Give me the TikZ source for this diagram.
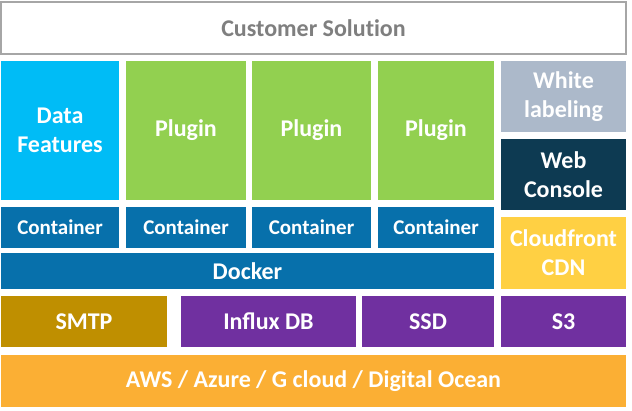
\documentclass[tikz,border=0pt]{standalone}
\usepackage{fontspec}
\setmainfont{Carlito}
\definecolor{cCyan}{HTML}{00BCF6}
\definecolor{cGreen}{HTML}{92D050}
\definecolor{cBlue}{HTML}{0770AB}
\definecolor{cGrayBlue}{HTML}{ACB9CA}
\definecolor{cNavy}{HTML}{0D3A52}
\definecolor{cYellow}{HTML}{FFD043}
\definecolor{cOlive}{HTML}{BF8F00}
\definecolor{cPurple}{HTML}{7030A0}
\definecolor{cOrange}{HTML}{FBAF34}
\definecolor{cText}{HTML}{7F7F7F}
\definecolor{cBorder}{HTML}{A6A6A6}
\begin{document}
\begin{tikzpicture}[x=1pt,y=-1pt,
  blk/.style={rectangle, inner sep=0pt, outer sep=0pt, text=white, align=center,
    font=\fontsize{24}{29}\selectfont\bfseries},
  small/.style={font=\fontsize{21}{26}\selectfont\bfseries},
  ]
\useasboundingbox (0,0) rectangle (632,411);
\node[blk, fill=white, draw=cBorder, line width=1.5pt, text=cText, minimum width=625pt, minimum height=52pt] (cs) at (313.5,28) {Customer Solut\kern0pt ion};
% top row
\node[blk, fill=cCyan, minimum width=118pt, minimum height=139pt] (df) at (60,130.5) {Data\\Features};
\node[blk, fill=cGreen, minimum width=120pt, minimum height=139pt] (p1) at (186,130.5) {Plugin};
\node[blk, fill=cGreen, minimum width=119pt, minimum height=139pt] (p2) at (311.5,130.5) {Plugin};
\node[blk, fill=cGreen, minimum width=116pt, minimum height=139pt] (p3) at (436,130.5) {Plugin};
\node[blk, fill=cGrayBlue, minimum width=125pt, minimum height=71pt] (wl) at (563.5,96.5) {White\\labeling};
\node[blk, fill=cNavy, minimum width=125pt, minimum height=71pt] (wc) at (563.5,174.5) {Web\\Console};
% containers
\node[blk, small, fill=cBlue, minimum width=118pt, minimum height=41pt] (c1) at (60,227.5) {Container};
\node[blk, small, fill=cBlue, minimum width=120pt, minimum height=41pt] (c2) at (186,227.5) {Container};
\node[blk, small, fill=cBlue, minimum width=119pt, minimum height=41pt] (c3) at (311.5,227.5) {Container};
\node[blk, small, fill=cBlue, minimum width=116pt, minimum height=41pt] (c4) at (436,227.5) {Container};
\node[blk, fill=cYellow, minimum width=125pt, minimum height=72pt] (cf) at (563.5,253) {Cloudfront\\CDN};
\node[blk, fill=cBlue, minimum width=493pt, minimum height=36pt] (dk) at (247.5,271) {Docker};
% storage
\node[blk, fill=cOlive, minimum width=166pt, minimum height=51pt] (smtp) at (84,321.5) {SMTP};
\node[blk, fill=cPurple, minimum width=175pt, minimum height=51pt] (idb) at (268.5,321.5) {Influx DB};
\node[blk, fill=cPurple, minimum width=132pt, minimum height=51pt] (ssd) at (428,321.5) {SSD};
\node[blk, fill=cPurple, minimum width=125pt, minimum height=51pt] (s3) at (563.5,321.5) {S3};
\node[blk, fill=cOrange, minimum width=625pt, minimum height=52pt] (aws) at (313.5,381) {AWS / Azure / G cloud / Digital Ocean};
\end{tikzpicture}
\end{document}
